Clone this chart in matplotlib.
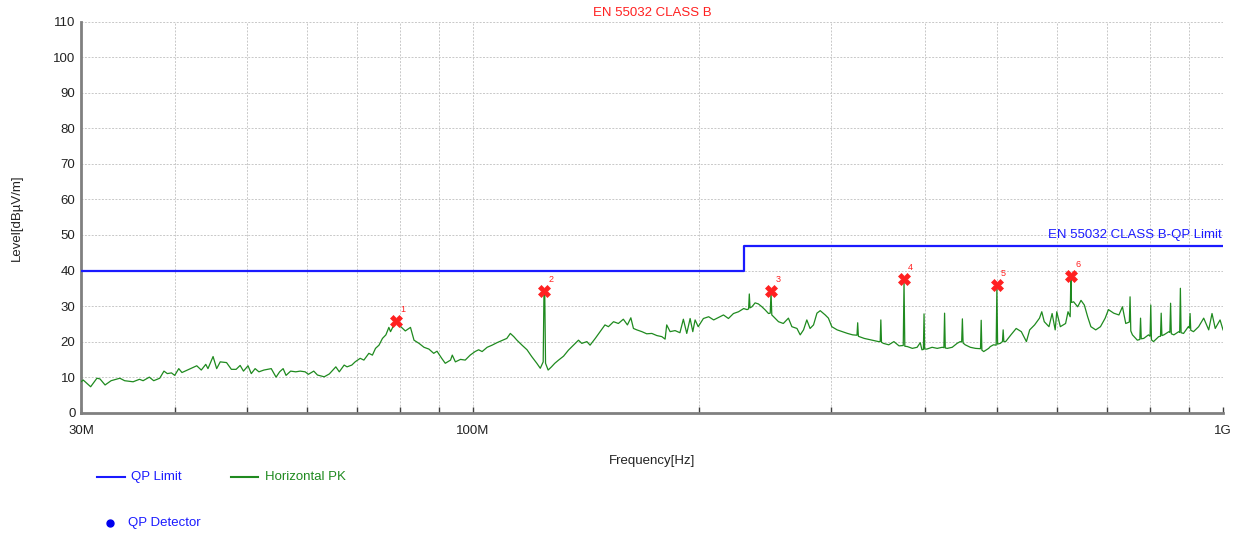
import matplotlib
matplotlib.use("Agg")
import matplotlib.pyplot as plt
from matplotlib.lines import Line2D
from matplotlib.ticker import FixedLocator, NullFormatter

plt.rcParams['font.family'] = ['Liberation Sans', 'DejaVu Sans']

# Horizontal peak scan: frequency (MHz) and level (dBuV/m)
pk_freq = [
    30.0, 30.2, 30.9, 31.5, 31.8, 32.3, 32.9, 33.8, 34.3, 35.2, 35.9, 36.3, 37.0, 37.5, 38.2, 38.7, 39.1, 39.6,
    40.0, 40.5, 40.9, 41.8, 42.8, 43.4, 44.0, 44.3, 45.0, 45.5, 46.0, 46.9, 47.6, 48.3, 48.9, 49.4,
    50.1, 50.6, 51.2, 51.8, 52.6, 53.8, 54.6, 55.2, 55.8, 56.3, 57.1, 58.0, 58.8, 59.7,
    60.3, 61.3, 62.0, 63.3, 64.3, 65.6, 66.3, 67.3, 67.9, 68.9, 69.6,
    70.7, 71.5, 72.6, 73.4, 74.1, 74.9, 75.7, 76.5, 77.2, 77.6, 78.4, 79.0, 79.9,
    81.2, 82.5, 83.4, 84.7, 86.0, 87.3, 88.6, 89.5,
    90.8, 91.8, 93.3, 93.8, 94.7, 96.2, 97.6, 99.1,
    100.6, 101.7, 102.8, 104.4, 106.0, 107.6, 109.2,
    110.9, 112.1, 113.3, 114.4, 116.2, 118.0, 119.7,
    121.6, 122.9, 124.0, 124.3, 124.6, 124.9, 125.9, 127.2, 128.5,
    130.0, 132.0, 134.0, 136.1, 138.2, 139.6,
    141.8, 143.2, 145.5, 147.7,
    149.9, 151.5, 153.9, 156.2, 158.6,
    160.6, 162.3, 163.6, 165.3, 167.9,
    170.4, 173.1, 175.8, 178.5,
    180.3, 181.2, 183.1, 185.9, 188.7,
    190.7, 192.7, 194.7, 196.3, 197.7, 199.6,
    202.8, 206.1, 209.3, 212.5, 215.7, 219.0,
    222.4, 225.9, 229.5, 231.9, 233.0, 233.5, 234.0, 235.4, 237.7, 240.1,
    242.7, 245.2, 247.7, 249.0, 249.6, 250.2, 251.6, 255.4, 259.2,
    263.3, 266.1, 270.3, 273.0, 275.8, 278.6,
    281.4, 284.4, 287.4, 290.3, 294.8, 297.7,
    300.8, 305.8, 310.8, 315.7, 320.7, 325.0, 325.7, 326.4, 327.3, 332.3, 337.3, 342.3, 347.3,
    349.0, 349.7, 350.4,
    352.5, 358.3, 364.0, 369.8, 374.6, 375.5, 376.4, 379.4, 385.2, 390.9, 394.7, 396.7,
    398.5, 399.3, 400.1,
    402.7, 409.3, 415.8, 422.3, 424.4, 425.3, 426.2, 428.9, 435.4, 441.9, 446.2,
    448.2, 449.2, 450.2,
    453.1, 460.3, 467.6, 474.9, 475.9, 476.9, 479.6, 486.9, 489.4, 494.2, 498.3, 499.4, 500.5,
    504.6, 508.0, 509.1, 510.2, 513.0, 521.4, 529.9, 538.3, 546.8, 552.3, 560.7, 569.2, 573.2, 577.6,
    586.0, 591.7, 597.3,
    600.2, 606.8, 616.7, 621.3, 625.4, 626.7, 628.0, 632.1, 640.0, 646.6, 653.2, 659.9, 666.5, 676.5,
    686.4, 696.4,
    703.4, 714.9, 726.4, 734.3, 741.8, 750.0, 751.7, 753.4, 757.2, 768.7, 774.6, 776.3, 778.0, 783.9,
    795.4, 799.3,
    801.0, 802.7, 807.8, 820.8, 825.3, 827.1, 828.9, 833.9, 846.9, 849.4, 851.3, 853.2, 859.9, 872.9,
    875.4, 877.3, 879.2, 885.9, 898.9,
    901.9, 903.8, 905.7, 913.4, 927.9, 942.4, 957.0, 966.8, 976.4, 991.0, 1000.0,
]
pk_level = [
    8.7, 9.2, 7.3, 9.7, 9.5, 7.8, 9.0, 9.7, 9.0, 8.7, 9.4, 9.0, 10.0, 9.0, 9.7, 11.7, 11.0, 11.2,
    10.5, 12.4, 11.3, 12.2, 13.2, 12.0, 13.6, 12.4, 15.8, 12.4, 14.3, 14.1, 12.2, 12.2, 13.3, 11.7,
    13.2, 11.0, 12.4, 11.5, 12.0, 12.4, 10.0, 11.5, 12.4, 10.5, 11.7, 11.5, 11.7, 11.5,
    10.8, 11.7, 10.6, 10.1, 10.9, 12.9, 11.5, 13.4, 12.9, 13.4, 14.3,
    15.3, 14.8, 16.7, 16.2, 18.1, 19.0, 20.9, 21.9, 24.0, 22.8, 24.7, 25.2, 24.4,
    23.0, 24.0, 20.4, 19.5, 18.4, 17.9, 16.7, 17.3,
    15.3, 13.9, 14.8, 16.2, 14.3, 15.0, 14.8, 16.2,
    17.2, 17.7, 17.2, 18.4, 19.0, 19.7, 20.3,
    20.9, 22.3, 21.4, 20.4, 19.0, 17.7, 15.8,
    13.9, 12.5, 14.3, 33.8, 33.6, 13.9, 12.0, 12.9, 13.9,
    14.8, 15.9, 17.6, 19.0, 20.4, 19.5,
    20.0, 19.0, 20.9, 22.8,
    24.7, 24.2, 25.6, 25.1, 26.3,
    24.7, 26.7, 23.7, 23.3, 22.8,
    22.2, 22.3, 21.7, 21.4,
    20.7, 24.7, 22.8, 23.1, 22.5,
    26.3, 22.3, 26.5, 22.8, 26.1, 24.2,
    26.5, 27.0, 26.1, 26.8, 27.5, 26.5,
    27.9, 28.4, 29.3, 29.0, 29.2, 33.4, 29.5, 29.8, 30.9, 30.6,
    29.8, 28.9, 27.9, 28.0, 33.9, 27.5, 27.0, 25.6, 25.1,
    26.6, 24.2, 23.7, 21.9, 23.3, 26.1,
    23.7, 24.7, 28.0, 28.7, 27.5, 26.6,
    24.2, 23.3, 22.8, 22.3, 21.9, 21.8, 25.3, 21.5, 21.4, 20.9, 20.6, 20.3, 20.0,
    20.0, 26.1, 19.8,
    19.5, 19.1, 20.0, 18.8, 18.9, 37.0, 18.7, 18.6, 18.1, 18.4, 19.7, 17.7,
    17.8, 27.8, 17.9,
    17.9, 18.4, 18.1, 18.4, 18.3, 28.0, 18.2, 18.1, 18.4, 19.5, 20.0,
    19.9, 26.4, 19.6,
    19.1, 18.4, 18.1, 18.0, 26.0, 17.6, 17.2, 18.1, 18.6, 19.1, 19.0, 35.4, 19.3,
    19.5, 20.0, 23.3, 20.0, 20.0, 21.9, 23.7, 22.8, 20.0, 23.3, 24.7, 26.6, 28.4, 25.6,
    24.2, 27.9, 23.3,
    28.4, 24.2, 25.1, 28.4, 27.0, 38.0, 31.0, 31.2, 29.8, 31.6, 30.3, 27.0, 24.2, 23.3,
    24.2, 26.6,
    29.0, 28.0, 27.5, 29.8, 25.1, 25.5, 32.6, 23.0, 21.9, 20.4, 20.6, 26.6, 20.8, 20.9,
    21.9, 21.5,
    30.3, 20.5, 20.0, 21.4, 21.5, 28.0, 21.7, 21.9, 22.8, 22.6, 30.8, 22.2, 21.9, 22.8,
    22.6, 35.0, 22.5, 22.3, 24.2,
    23.8, 27.9, 23.2, 22.8, 24.2, 26.6, 23.3, 27.9, 23.7, 26.1, 23.3,
]

# EN 55032 Class B quasi-peak limit (step at 230 MHz)
limit_freq = [30.0, 230.0, 230.0, 1000.0]
limit_level = [40.0, 40.0, 47.0, 47.0]

# Peak markers
marker_freq = [79.0, 124.4, 249.6, 375.5, 499.4, 626.7]
marker_level = [25.8, 34.2, 34.3, 37.5, 35.9, 38.5]
marker_ids = ['1', '2', '3', '4', '5', '6']

x_tick_values = [30, 100, 1000]
x_tick_labels = ['30M', '100M', '1G']
x_minor_values = [40, 50, 60, 70, 80, 90, 200, 300, 400, 500, 600, 700, 800, 900]

BLUE = '#1a1aff'
GREEN = '#1f8a1f'
RED = '#ff2020'

fig = plt.figure(figsize=(12.39, 5.33), dpi=100)
ax = fig.add_axes([0.0654, 0.2257, 0.9217, 0.7336])

ax.plot(pk_freq, pk_level, color=GREEN, lw=0.9, zorder=3)
ax.plot(limit_freq, limit_level, color=BLUE, lw=1.6, zorder=4)
ax.plot(marker_freq, marker_level, linestyle='none', marker='X', markersize=8,
        color=RED, markeredgecolor=RED, markeredgewidth=0.5, zorder=5)
for f, lv, t in zip(marker_freq, marker_level, marker_ids):
    ax.annotate(t, (f, lv), xytext=(3, 5), textcoords='offset points',
                color=RED, fontsize=6.5, ha='left', va='bottom', zorder=6)

ax.set_xscale('log')
ax.set_xlim(30, 1000)
ax.set_ylim(0, 110)
ax.xaxis.set_major_locator(FixedLocator(x_tick_values))
ax.set_xticklabels(x_tick_labels)
ax.xaxis.set_minor_locator(FixedLocator(x_minor_values))
ax.xaxis.set_minor_formatter(NullFormatter())
ax.set_yticks(range(0, 111, 10))

ax.grid(True, which='both', color='#c8c8c8', linestyle=(0, (2, 1.5)), linewidth=0.7)
ax.set_axisbelow(True)

for side in ('top', 'right'):
    ax.spines[side].set_visible(False)
for side in ('left', 'bottom'):
    ax.spines[side].set_color('#808080')
    ax.spines[side].set_linewidth(2.0)

ax.tick_params(axis='x', which='both', direction='in', length=4, width=1, color='#404040',
               labelsize=9.5, pad=9, labelcolor='#222222')
ax.tick_params(axis='y', which='both', length=0, labelsize=9.5, pad=4, labelcolor='#222222')

ax.set_xlabel('Frequency[Hz]', fontsize=9.5, labelpad=13, color='#222222')
ax.set_ylabel('Level[dBµV/m]', fontsize=9.5, labelpad=22, color='#222222')

ax.set_title('EN 55032 CLASS B', color=RED, fontsize=9.5, pad=4)
ax.text(995, 48.3, 'EN 55032 CLASS B-QP Limit', color=BLUE, fontsize=9.5,
        ha='right', va='bottom')

# Legend area beneath the plot
fig.add_artist(Line2D([97 / 1239, 125 / 1239], [1 - 477 / 533] * 2, color=BLUE, lw=1.5))
fig.text(131 / 1239, 1 - 477 / 533, 'QP Limit', color=BLUE, fontsize=9.5, va='center')
fig.add_artist(Line2D([231 / 1239, 258 / 1239], [1 - 477 / 533] * 2, color=GREEN, lw=1.5))
fig.text(265 / 1239, 1 - 477 / 533, 'Horizontal PK', color=GREEN, fontsize=9.5, va='center')
fig.add_artist(Line2D([110 / 1239], [1 - 523 / 533], marker='o', markersize=5,
                      color='#0000ee', linestyle='none'))
fig.text(128 / 1239, 1 - 523 / 533, 'QP Detector', color=BLUE, fontsize=9.5, va='center')

fig.savefig('out.png', dpi=100, facecolor='white')
